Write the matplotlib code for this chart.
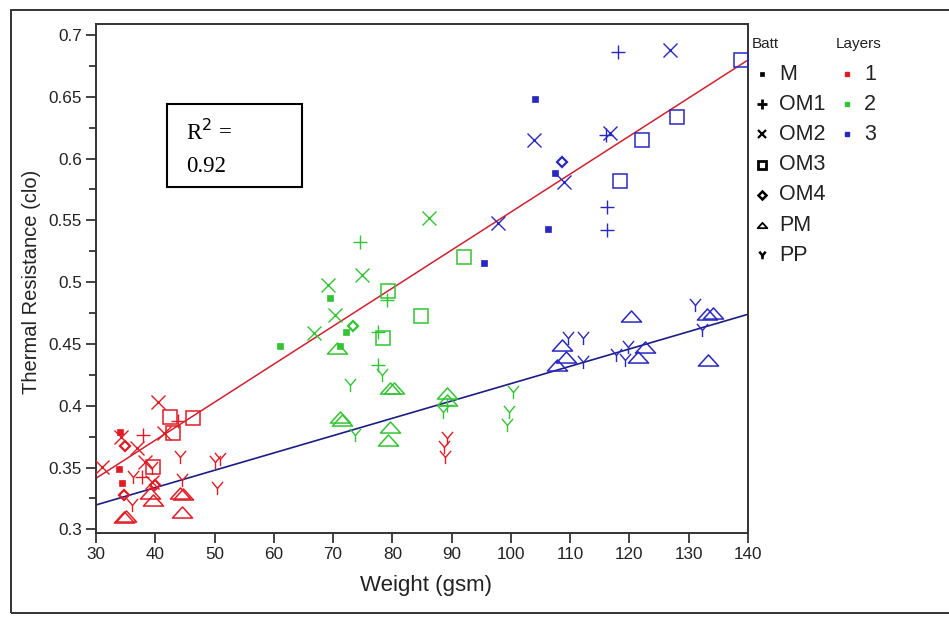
import matplotlib
matplotlib.use("Agg")
import matplotlib.pyplot as plt
from matplotlib.path import Path
from matplotlib.patches import Rectangle
from matplotlib.lines import Line2D
import numpy as np

plt.rcParams['font.family'] = ['Liberation Sans', 'DejaVu Sans']

# ---------------- data ----------------
batt_types = ["M", "OM1", "OM2", "OM3", "OM4", "PM", "PP"]
layer_names = ["1", "2", "3"]
layer_colors = ["#e01b24", "#33c433", "#2828c0"]

# Layer 1 (red)
l1_weight = [34.0, 33.8, 34.4,
             38.0, 37.7, 43.8,
             31.0, 34.3, 36.9, 41.4, 38.3, 39.4, 40.5,
             43.0, 39.7, 42.5, 46.4,
             34.9, 34.7, 39.9,
             34.7, 35.0, 39.1, 39.7, 44.2, 44.6, 44.5,
             36.3, 36.0, 39.5, 44.2, 44.5, 50.1, 51.0, 50.4, 89.2, 88.7, 88.9]
l1_resist = [0.379, 0.3486, 0.3373,
             0.3763, 0.3426, 0.388,
             0.3507, 0.375, 0.3655, 0.3777, 0.3548, 0.3385, 0.4033,
             0.3777, 0.3507, 0.391, 0.390,
             0.3674, 0.3278, 0.336,
             0.3102, 0.3105, 0.329, 0.3238, 0.329, 0.3285, 0.314,
             0.3426, 0.3197, 0.350, 0.3588, 0.340, 0.3548, 0.357, 0.3332, 0.3736, 0.3669, 0.3588]
l1_batt = ["M", "M", "M",
           "OM1", "OM1", "OM1",
           "OM2", "OM2", "OM2", "OM2", "OM2", "OM2", "OM2",
           "OM3", "OM3", "OM3", "OM3",
           "OM4", "OM4", "OM4",
           "PM", "PM", "PM", "PM", "PM", "PM", "PM",
           "PP", "PP", "PP", "PP", "PP", "PP", "PP", "PP", "PP", "PP", "PP"]

# Layer 2 (green)
l2_weight = [69.4, 61.0, 72.2, 71.1,
             74.5, 79.1, 77.5, 77.5, 89.2,
             86.1, 74.8, 69.2, 70.3, 66.7,
             79.3, 84.9, 92.1, 78.5,
             73.3,
             70.6, 79.6, 80.3, 71.2, 71.5, 79.6, 79.3, 89.2, 89.2,
             78.2, 72.9, 73.7, 88.5, 100.4, 99.6, 99.3]
l2_resist = [0.4874, 0.448, 0.460, 0.448,
             0.5328, 0.4856, 0.4599, 0.433, 0.4006,
             0.5517, 0.5058, 0.4977, 0.4734, 0.4586,
             0.4931, 0.4726, 0.520, 0.4546,
             0.4645,
             0.4465, 0.4141, 0.414, 0.3911, 0.3885, 0.383, 0.3723, 0.410, 0.4046,
             0.4249, 0.4168, 0.3763, 0.3952, 0.4114, 0.3952, 0.3844]
l2_batt = ["M", "M", "M", "M",
           "OM1", "OM1", "OM1", "OM1", "OM1",
           "OM2", "OM2", "OM2", "OM2", "OM2",
           "OM3", "OM3", "OM3", "OM3",
           "OM4",
           "PM", "PM", "PM", "PM", "PM", "PM", "PM", "PM", "PM",
           "PP", "PP", "PP", "PP", "PP", "PP", "PP"]

# Layer 3 (blue)
l3_weight = [104.1, 107.4, 106.3, 95.5,
             118.1, 116.0, 116.2, 116.2,
             126.9, 103.9, 116.7, 109.0, 97.9,
             138.9, 122.1, 128.1, 118.4,
             108.6,
             120.2, 133.0, 134.1, 133.3, 108.6, 109.3, 107.7, 121.5, 122.6,
             131.1, 132.3, 109.7, 112.2, 112.1, 117.8, 119.2, 119.8]
l3_resist = [0.648, 0.5886, 0.543, 0.5153,
             0.6865, 0.619, 0.561, 0.5422,
             0.6879, 0.615, 0.6204, 0.5813, 0.5481,
             0.6798, 0.615, 0.6334, 0.5821,
             0.5975,
             0.4726, 0.4742, 0.4753, 0.437, 0.4491, 0.4397, 0.433, 0.4392, 0.4473,
             0.4815, 0.4613, 0.4546, 0.4546, 0.4357, 0.4411, 0.437, 0.4478]
l3_batt = ["M", "M", "M", "M",
           "OM1", "OM1", "OM1", "OM1",
           "OM2", "OM2", "OM2", "OM2", "OM2",
           "OM3", "OM3", "OM3", "OM3",
           "OM4",
           "PM", "PM", "PM", "PM", "PM", "PM", "PM", "PM", "PM",
           "PP", "PP", "PP", "PP", "PP", "PP", "PP", "PP"]

# fitted trend lines
fit_x = [30, 140]
fit_upper_y = [0.3413, 0.6798]
fit_lower_y = [0.3197, 0.4740]

r2_text = "0.92"
x_ticks = list(range(30, 141, 10))
y_ticks = [0.3, 0.35, 0.4, 0.45, 0.5, 0.55, 0.6, 0.65, 0.7]
y_tick_labels = ["0.3", "0.35", "0.4", "0.45", "0.5", "0.55", "0.6", "0.65", "0.7"]

# ---------------- styling ----------------
tri_path = Path([(-1.0, -0.55), (1.0, -0.55), (0.0, 0.55), (-1.0, -0.55)],
                [Path.MOVETO, Path.LINETO, Path.LINETO, Path.CLOSEPOLY])
y_path = Path([(-0.42, 0.5), (0.0, 0.0), (0.42, 0.5), (0.0, 0.0), (0.0, -0.5)],
              [Path.MOVETO, Path.LINETO, Path.LINETO, Path.MOVETO, Path.LINETO])

marker_style = {
    "M":   dict(marker="s", ms=5.0, filled=True, mew=0.5),
    "OM1": dict(marker="+", ms=10.0, filled=False, mew=1.0),
    "OM2": dict(marker="x", ms=10.5, filled=False, mew=1.0),
    "OM3": dict(marker="s", ms=9.5, filled=False, mew=1.1),
    "OM4": dict(marker="D", ms=5.0, filled=False, mew=1.6),
    "PM":  dict(marker=tri_path, ms=14.5, filled=False, mew=1.1),
    "PP":  dict(marker=y_path, ms=9.5, filled=False, mew=1.0),
}

W, H = 949, 622
fig = plt.figure(figsize=(W / 100, H / 100), dpi=100)
fig.patch.set_facecolor("white")

ax = fig.add_axes([96 / W, 1 - 533 / H, (748 - 96) / W, (533 - 24) / H])

# outer frame
fig.add_artist(Rectangle((11 / W, 1 - 613 / H), 1.2, (613 - 10) / H,
                         transform=fig.transFigure, fill=False,
                         edgecolor="#333333", lw=1.4, clip_on=False))

ax.plot(fit_x, fit_lower_y, color="#1c1c85", lw=1.2, zorder=2)
ax.plot(fit_x, fit_upper_y, color="#d02030", lw=1.1, zorder=2)

layers = [(l1_weight, l1_resist, l1_batt),
          (l2_weight, l2_resist, l2_batt),
          (l3_weight, l3_resist, l3_batt)]

for (wts, res, bts), col in zip(layers, layer_colors):
    wts = np.array(wts); res = np.array(res); bts = np.array(bts)
    for b in batt_types:
        m = bts == b
        if not m.any():
            continue
        st = marker_style[b]
        ax.plot(wts[m], res[m], linestyle="none", marker=st["marker"],
                markersize=st["ms"], markeredgewidth=st["mew"],
                markeredgecolor=col,
                markerfacecolor=col if st["filled"] else "none", zorder=3)

ax.set_xlim(30, 140)
ax.set_ylim(0.2970, 0.7089)
ax.set_xticks(x_ticks)
ax.set_xticklabels([str(t) for t in x_ticks])
ax.set_yticks(y_ticks)
ax.set_yticklabels(y_tick_labels)
ax.set_yticks(np.arange(0.325, 0.7, 0.05), minor=True)
ax.tick_params(axis="both", which="major", direction="out", length=7, width=1.2,
               labelsize=12.3, colors="#222222", pad=3)
ax.tick_params(axis="y", which="minor", direction="out", length=5, width=1.2,
               colors="#222222")
for s in ax.spines.values():
    s.set_linewidth(1.4)
    s.set_color("#333333")

fig.text(426 / W, 1 - 585 / H, "Weight (gsm)", ha="center", va="center",
         fontsize=16, color="#222222")
fig.text(32 / W, 1 - 282 / H, "Thermal Resistance (clo)", ha="center", va="center",
         rotation=90, fontsize=14.5, color="#222222")

# R^2 annotation box
fig.add_artist(Rectangle((167 / W, 1 - 187 / H), (302 - 167) / W, (187 - 104) / H,
                         transform=fig.transFigure, fill=True, facecolor="white",
                         edgecolor="black", lw=1.5, zorder=5))
fig.text(186 / W, 1 - 140 / H, r"R$^{2}$ =", ha="left", va="baseline",
         fontsize=16.5, family="Liberation Serif", zorder=6)
fig.text(186 / W, 1 - 172 / H, r2_text, ha="left", va="baseline",
         fontsize=16.5, family="Liberation Serif", zorder=6)

# legend (Batt / Layers)
fig.text(752 / W, 1 - 44 / H, "Batt", ha="left", va="center", fontsize=11, color="#222222")
fig.text(836 / W, 1 - 44 / H, "Layers", ha="left", va="center", fontsize=11, color="#222222")
leg_ms = {"M": 3.5, "OM1": 6.5, "OM2": 5.5, "OM3": 5.5, "OM4": 4.0, "PM": 7.0, "PP": 5.5}
leg_mew = {"M": 0.5, "OM1": 2.0, "OM2": 1.6, "OM3": 2.0, "OM4": 1.8, "PM": 1.3, "PP": 1.8}
for i, b in enumerate(batt_types):
    yc = 1 - (74 + i * 30.2) / H
    st = marker_style[b]
    fig.add_artist(Line2D([762 / W], [yc], transform=fig.transFigure,
                          marker=st["marker"], markersize=leg_ms[b],
                          markeredgewidth=leg_mew[b], markeredgecolor="black",
                          markerfacecolor="black" if st["filled"] else "none",
                          linestyle="none"))
    fig.text(779 / W, yc, b, ha="left", va="center", fontsize=15.5, color="#222222")
for i, (nm, col) in enumerate(zip(layer_names, layer_colors)):
    yc = 1 - (74 + i * 30.2) / H
    fig.add_artist(Line2D([847 / W], [yc], transform=fig.transFigure, marker="s",
                          markersize=3.2, markerfacecolor=col, markeredgecolor=col,
                          linestyle="none"))
    fig.text(864 / W, yc, nm, ha="left", va="center", fontsize=15.5, color="#222222")

fig.savefig("out.png", dpi=100)
